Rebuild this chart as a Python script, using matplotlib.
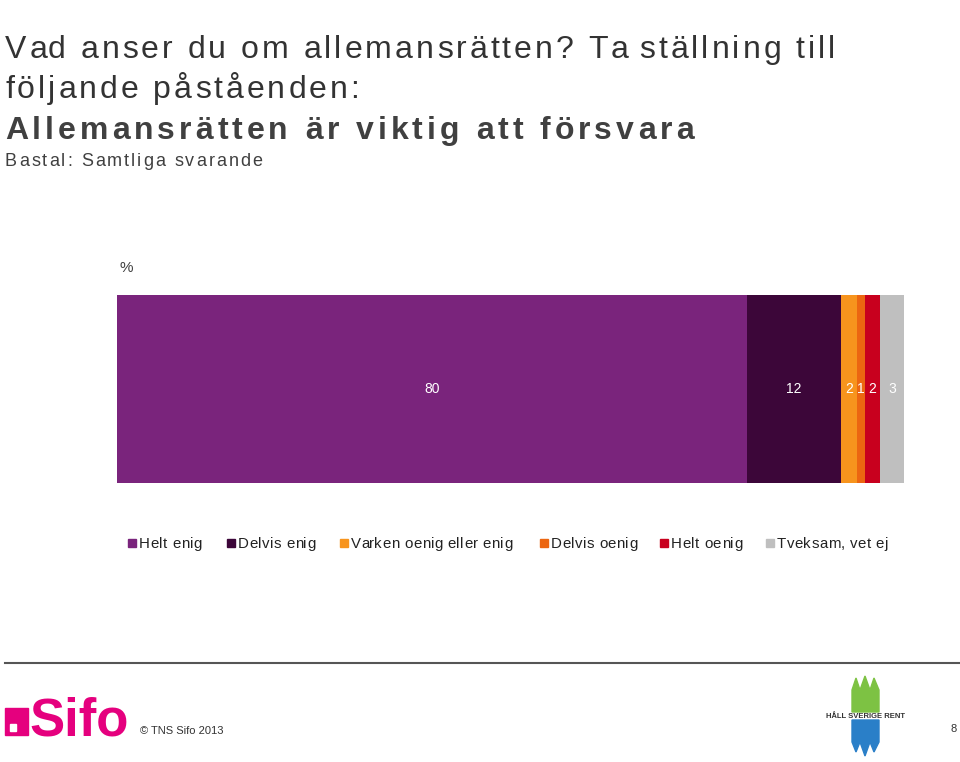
import matplotlib
matplotlib.use("Agg")
import matplotlib.pyplot as plt
from matplotlib.patches import Rectangle, Polygon
from matplotlib.lines import Line2D

plt.rcParams['font.family'] = ['Liberation Sans', 'DejaVu Sans']

# data
categories = ["Helt enig", "Delvis enig", "Varken oenig eller enig",
              "Delvis oenig", "Helt oenig", "Tveksam, vet ej"]
values = [80, 12, 2, 1, 2, 3]
colors = ["#7A247C", "#3C0639", "#F7941D", "#EC6611", "#C8001E", "#BFBFBF"]

W, H = 960, 762
fig = plt.figure(figsize=(W/100, H/100), dpi=100)
renderer = fig.canvas.get_renderer()


def text_w(s, **kw):
    # width in px, with a bar after so trailing spaces count
    t = fig.text(0, 0, s + "|", **kw)
    t2 = fig.text(0, 0, "|", **kw)
    w = t.get_window_extent(renderer).width - t2.get_window_extent(renderer).width
    t.remove()
    t2.remove()
    return w


def spaced_text(x, y, s, spacing, **kw):
    # draws s letter by letter starting at pixel x, with extra spacing
    for i, ch in enumerate(s):
        if ch == " ":
            continue
        dx = text_w(s[:i], **kw) + i * spacing
        fig.text((x + dx)/W, 1 - y/H, ch, ha="left", va="baseline", **kw)
    return text_w(s, **kw) + (len(s) - 1) * spacing


# titles
spaced_text(5, 58, "Vad anser du om allemansrätten? Ta ställning till", 3.0,
            fontsize=23, color="#333333")
spaced_text(5, 98, "följande påståenden:", 3.0, fontsize=23, color="#333333")
spaced_text(5, 139, "Allemansrätten är viktig att försvara", 4.0,
            fontsize=23, color="#404040", fontweight="bold")
spaced_text(5, 166, "Bastal: Samtliga svarande", 2.0, fontsize=13,
            color="#404040")
fig.text(120/W, 1-268/H, "%", fontsize=11, color="#404040",
         va="center", ha="left")

# bar
ax = fig.add_axes([117/W, 1-483/H, 787/W, 188/H])
left = 0
for cat, v, c in zip(categories, values, colors):
    ax.barh(0, v, left=left, height=1, color=c, label=cat)
    ax.text(left + v/2, 0, str(v), ha="center", va="center",
            color="white", fontsize=10)
    left += v
ax.set_xlim(0, 100)
ax.set_ylim(-0.5, 0.5)
ax.axis("off")

# legend
leg_x = [128, 227, 340, 540, 660, 766]
for x, cat, c in zip(leg_x, categories, colors):
    fig.add_artist(Rectangle((x/W, 1-547/H), 8/W, 8/H, color=c,
                             transform=fig.transFigure))
    spaced_text(x + 11, 548, cat, 0.4, fontsize=10.8, color="#222222")

# footer
fig.add_artist(Line2D([5/W, 1], [1-663/H, 1-663/H],
                      color="#555555", lw=1.5, transform=fig.transFigure))
fig.add_artist(Rectangle((5/W, 1-735/H), 23/W, 27/H,
                         color="#E5007E", transform=fig.transFigure))
fig.add_artist(Rectangle((10/W, 1-731/H), 6/W, 7/H,
                         color="white", transform=fig.transFigure))
fig.text(29/W, 1-735/H, "Sifo", fontsize=38, fontweight="bold",
         color="#E5007E", va="baseline", ha="left")
fig.text(140/W, 1-731/H, "© TNS Sifo 2013", fontsize=8,
         color="#333333", va="center", ha="left")
fig.text(957/W, 1-729/H, "8", fontsize=8, color="#333333",
         va="center", ha="right")


# Håll Sverige Rent logo (approximation)
def fp(pts):
    return [(x/W, 1-y/H) for x, y in pts]


fig.add_artist(Polygon(fp([(852, 712), (852, 690), (856, 678), (860, 690),
                           (865, 676), (870, 690), (874, 678), (879, 690),
                           (879, 712)]),
                       closed=True, color="#7DC243", transform=fig.transFigure))
fig.add_artist(Polygon(fp([(852, 720), (879, 720), (879, 742), (874, 752),
                           (870, 742), (865, 756), (860, 742), (856, 752),
                           (852, 742)]),
                       closed=True, color="#2A7FC8", transform=fig.transFigure))
fig.text(866/W, 1-716/H, "HÅLL SVERIGE RENT", fontsize=5.5,
         fontweight="bold", color="#333333", va="center", ha="center")

fig.savefig("out.png", dpi=100, facecolor="white")
